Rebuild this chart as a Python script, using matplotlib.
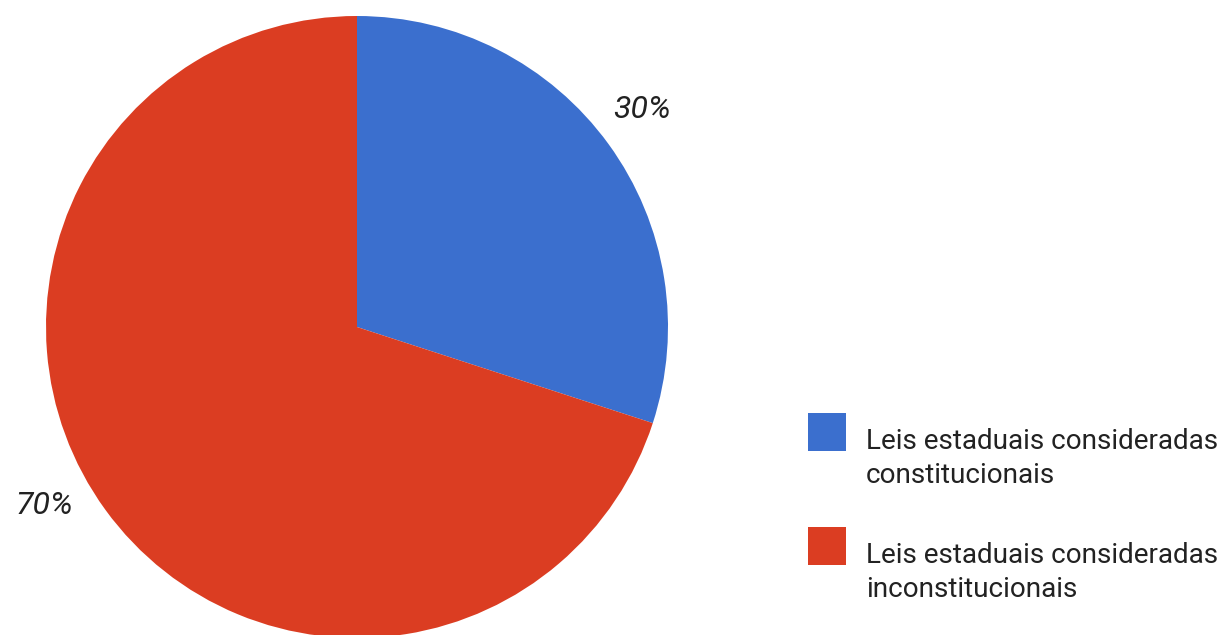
import matplotlib
matplotlib.use("Agg")
import matplotlib.pyplot as plt
from matplotlib.patches import Rectangle
import numpy as np

labels = ["Leis estaduais consideradas\nconstitucionais",
          "Leis estaduais consideradas\ninconstitucionais"]
values = [30, 70]
colors = ["#3B6FCE", "#DB3D22"]

plt.rcParams['font.family'] = ['Roboto', 'DejaVu Sans']

fig = plt.figure(figsize=(12.25, 6.35), dpi=100)
W, H = 1225, 635
cx, cy, r = 357, 327, 311
ax = fig.add_axes([(cx - r) / W, (H - cy - r) / H, 2 * r / W, 2 * r / H])
wedges, texts, autotexts = ax.pie(values, colors=colors, startangle=90, counterclock=False,
                                  autopct=lambda p: f"{p:.0f}%", pctdistance=1.16,
                                  radius=1.0, wedgeprops=dict(linewidth=0),
                                  textprops=dict(fontsize=23, style='italic', color='#222222'))
ax.set_xlim(-1, 1)
ax.set_ylim(-1, 1)
ax.set_aspect('equal')
ax.axis('off')

# label placement as in the original
for t, ang, rr in zip(autotexts, [37.3, 209.7], [1.152, 1.157]):
    a = np.deg2rad(ang)
    t.set_position((rr * np.cos(a), rr * np.sin(a)))

# legend drawn by hand to match the square swatches and spacing
fs = 20.1
sq = 38
for i, (lab, col) in enumerate(zip(labels, colors)):
    top = 413 + i * 114
    fig.patches.append(Rectangle((808 / W, 1 - (top + sq) / H), sq / W, sq / H,
                                 transform=fig.transFigure, facecolor=col, edgecolor='none'))
    for j, line in enumerate(lab.split("\n")):
        base = top + 36 + j * 34
        fig.text(866 / W, 1 - base / H, line, fontsize=fs, color='#222222',
                 va='baseline', ha='left')

fig.savefig("out.png", dpi=100, facecolor="white")
